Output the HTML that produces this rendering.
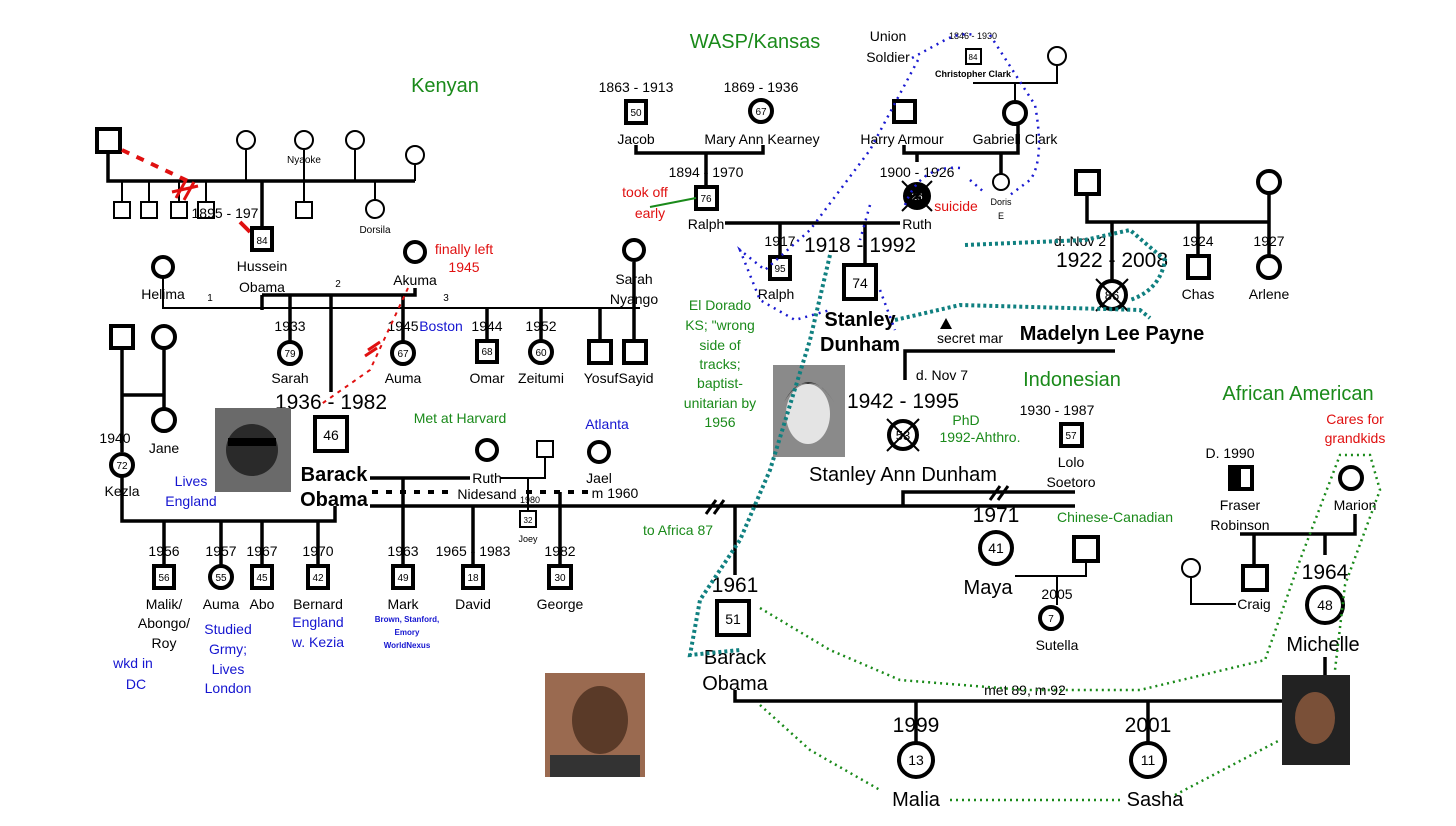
<!DOCTYPE html>
<html><head><meta charset="utf-8"><style>
html,body{margin:0;padding:0;background:#fff}
svg{display:block}
text{font-family:"Liberation Sans",sans-serif;fill:#000}
.s{font-size:14px}.xs{font-size:10px}.b{font-size:21px}.bb{font-size:20px;font-weight:bold}
.g{fill:#1a8a1a}.r{fill:#e01010}.bl{fill:#1515d0}
.ln{stroke:#000;stroke-width:3.5;fill:none}
.tn{stroke:#000;stroke-width:2;fill:none}
.sq{stroke:#000;stroke-width:4;fill:#fff}
.sq2{stroke:#000;stroke-width:2;fill:#fff}
</style></head><body>
<svg width="1456" height="826" viewBox="0 0 1456 826" xmlns="http://www.w3.org/2000/svg">
<g text-anchor="middle">
<text x="445" y="92" font-size="20" class="g">Kenyan</text>
<text x="755" y="48" font-size="20" class="g">WASP/Kansas</text>
<text x="1072" y="386" font-size="20" class="g">Indonesian</text>
<text x="1298" y="400" font-size="20" class="g">African American</text>

<rect x="97" y="129" width="23" height="23" class="sq"/>
<path class="ln" d="M108 152V181H415"/>
<path class="tn" d="M246 150V181M304 150V181M355 150V181M415 165V181"/>
<circle cx="246" cy="140" r="9" class="sq2"/><circle cx="304" cy="140" r="9" class="sq2"/><circle cx="355" cy="140" r="9" class="sq2"/><circle cx="415" cy="155" r="9" class="sq2"/>
<text x="304" y="163" class="xs">Nyaoke</text>
<path class="tn" d="M122 181V202M149 181V202M179 181V202M206 181V202M304 181V202M375 181V200"/>
<rect x="114" y="202" width="16" height="16" class="sq2"/><rect x="141" y="202" width="16" height="16" class="sq2"/><rect x="171" y="202" width="16" height="16" class="sq2"/><rect x="198" y="202" width="16" height="16" class="sq2"/><rect x="296" y="202" width="16" height="16" class="sq2"/>
<circle cx="375" cy="209" r="9" class="sq2"/><text x="375" y="233" class="xs">Dorsila</text>
<path d="M122 150L190 182" stroke="#e01010" stroke-width="4" stroke-dasharray="8,8" fill="none"/>
<path d="M176 198L186 180M184 200L194 182M172 192L198 186" stroke="#e01010" stroke-width="3"/>
<path class="ln" d="M262 181V228"/>
<text x="225" y="218" class="s">1895 - 197</text>
<path d="M240 222L250 232" stroke="#e01010" stroke-width="4"/>
<rect x="252" y="228" width="20" height="22" class="sq"/><text x="262" y="244" class="xs">84</text>
<text x="262" y="271" class="s">Hussein</text><text x="262" y="292" class="s">Obama</text>

<circle cx="163" cy="267" r="10" class="sq"/><text x="163" y="299" class="s">Helima</text>
<circle cx="415" cy="252" r="10" class="sq"/><text x="415" y="285" class="s">Akuma</text>
<text x="464" y="254" class="s r">finally left</text><text x="464" y="272" class="s r">1945</text>
<circle cx="634" cy="250" r="10" class="sq"/><text x="634" y="284" class="s">Sarah</text><text x="634" y="304" class="s">Nyango</text>
<path class="tn" d="M163 278V308H640" stroke-width="3"/>
<path class="ln" d="M262 295H415V288M262 295V310"/>
<text x="210" y="301" class="xs">1</text><text x="338" y="287" class="xs">2</text><text x="446" y="301" class="xs">3</text>
<path class="ln" d="M600 308V340M634 262V340M290 295V342M403 295V342M487 308V340M541 308V342"/>
<path class="ln" d="M331 295V392"/>
<circle cx="290" cy="353" r="11" class="sq"/><text x="290" y="357" class="xs">79</text>
<circle cx="403" cy="353" r="11" class="sq"/><text x="403" y="357" class="xs">67</text>
<rect x="477" y="341" width="20" height="21" class="sq"/><text x="487" y="355" class="xs">68</text>
<circle cx="541" cy="352" r="11" class="sq"/><text x="541" y="356" class="xs">60</text>
<rect x="589" y="341" width="22" height="22" class="sq"/><rect x="624" y="341" width="22" height="22" class="sq"/>
<text x="290" y="331" class="s">1933</text><text x="403" y="331" class="s">1945</text><text x="441" y="331" class="s bl" font-size="14">Boston</text><text x="487" y="331" class="s">1944</text><text x="541" y="331" class="s">1952</text>
<text x="290" y="383" class="s">Sarah</text><text x="403" y="383" class="s">Auma</text><text x="487" y="383" class="s">Omar</text><text x="541" y="383" class="s">Zeitumi</text><text x="601" y="383" class="s">Yosuf</text><text x="636" y="383" class="s">Sayid</text>
<path d="M408 288L370 370L320 405" stroke="#e01010" stroke-width="2" stroke-dasharray="4,5" fill="none"/>
<path d="M368 350L380 342M365 356L377 348" stroke="#e01010" stroke-width="3"/>

<text x="331" y="409" class="b">1936 - 1982</text>
<rect x="315" y="417" width="32" height="34" class="sq"/><text x="331" y="440" font-size="14">46</text>
<rect x="215" y="408" width="76" height="84" fill="#6a6a6a"/><circle cx="252" cy="450" r="26" fill="#2a2a2a"/><rect x="228" y="438" width="48" height="8" fill="#000"/>
<text x="334" y="481" class="bb">Barack</text><text x="334" y="506" class="bb">Obama</text>
<text x="191" y="486" class="s bl">Lives</text><text x="191" y="506" class="s bl">England</text>
<text x="460" y="423" class="s g">Met at Harvard</text><text x="607" y="429" class="s bl">Atlanta</text>
<circle cx="487" cy="450" r="10" class="sq"/><rect x="537" y="441" width="16" height="16" class="sq2"/><circle cx="599" cy="452" r="10" class="sq"/>
<path class="ln" d="M370 478H470"/><path class="tn" d="M500 478H545V457M528 478V510"/>
<text x="487" y="483" class="s">Ruth</text><text x="599" y="483" class="s">Jael</text>
<path d="M372 492H640" stroke="#000" stroke-width="4" stroke-dasharray="6,8"/>
<rect x="450" y="486" width="70" height="14" fill="#fff"/><text x="487" y="499" class="s">Nidesand</text><text x="530" y="503" font-size="9">1980</text>
<rect x="590" y="486" width="50" height="14" fill="#fff"/><text x="615" y="498" class="s">m 1960</text>
<path class="ln" d="M370 506H1075"/>
<rect x="520" y="511" width="16" height="16" class="sq2"/><text x="528" y="523" font-size="8">32</text><text x="528" y="542" font-size="9">Joey</text>
<path class="ln" d="M403 478V566M473 506V566M560 492V566"/>
<rect x="393" y="566" width="20" height="22" class="sq"/><text x="403" y="581" class="xs">49</text>
<rect x="463" y="566" width="20" height="22" class="sq"/><text x="473" y="581" class="xs">18</text>
<rect x="549" y="566" width="22" height="22" class="sq"/><text x="560" y="581" class="xs">30</text>
<text x="403" y="556" class="s">1963</text><text x="473" y="556" class="s">1965 - 1983</text><text x="560" y="556" class="s">1982</text>
<text x="403" y="609" class="s">Mark</text><text x="473" y="609" class="s">David</text><text x="560" y="609" class="s">George</text>
<text x="407" y="622" font-size="8" class="bl" font-weight="bold">Brown, Stanford,</text><text x="407" y="635" font-size="8" class="bl" font-weight="bold">Emory</text><text x="407" y="648" font-size="8" class="bl" font-weight="bold">WorldNexus</text>

<rect x="111" y="326" width="22" height="22" class="sq"/><circle cx="164" cy="337" r="11" class="sq"/>
<path class="ln" d="M122 348V452M164 348V408M122 395H164"/>
<circle cx="164" cy="420" r="11" class="sq"/><text x="164" y="453" class="s">Jane</text>
<text x="115" y="443" class="s">1940</text>
<circle cx="122" cy="465" r="11" class="sq"/><text x="122" y="469" class="xs">72</text><text x="122" y="496" class="s">Kezla</text>
<path class="ln" d="M122 477V521H335V506"/>
<path class="ln" d="M164 521V566M221 521V566M262 521V566M318 521V566"/>
<rect x="154" y="566" width="20" height="22" class="sq"/><text x="164" y="581" class="xs">56</text>
<circle cx="221" cy="577" r="11" class="sq"/><text x="221" y="581" class="xs">55</text>
<rect x="252" y="566" width="20" height="22" class="sq"/><text x="262" y="581" class="xs">45</text>
<rect x="308" y="566" width="20" height="22" class="sq"/><text x="318" y="581" class="xs">42</text>
<text x="164" y="556" class="s">1956</text><text x="221" y="556" class="s">1957</text><text x="262" y="556" class="s">1967</text><text x="318" y="556" class="s">1970</text>
<text x="164" y="609" class="s">Malik/</text><text x="164" y="628" class="s">Abongo/</text><text x="164" y="648" class="s">Roy</text>
<text x="221" y="609" class="s">Auma</text><text x="262" y="609" class="s">Abo</text><text x="318" y="609" class="s">Bernard</text>
<text x="318" y="627" class="s bl">England</text><text x="318" y="647" class="s bl">w. Kezia</text>
<text x="228" y="634" class="s bl">Studied</text><text x="228" y="654" class="s bl">Grmy;</text><text x="228" y="674" class="s bl">Lives</text><text x="228" y="693" class="s bl">London</text>
<text x="133" y="668" class="s bl">wkd in</text><text x="136" y="689" class="s bl">DC</text>

<text x="636" y="92" class="s">1863 - 1913</text><text x="761" y="92" class="s">1869 - 1936</text>
<rect x="626" y="101" width="20" height="22" class="sq"/><text x="636" y="116" class="xs">50</text>
<circle cx="761" cy="111" r="11" class="sq"/><text x="761" y="115" class="xs">67</text>
<text x="636" y="144" class="s">Jacob</text><text x="762" y="144" class="s">Mary Ann Kearney</text>
<path class="ln" d="M636 145V153H763V145M706 153V187"/>
<text x="706" y="177" class="s">1894 - 1970</text>
<rect x="696" y="187" width="21" height="22" class="sq"/><text x="706" y="202" class="xs">76</text>
<text x="645" y="197" class="s r">took off</text><text x="650" y="218" class="s r">early</text>
<path d="M650 207L696 198" stroke="#1a8a1a" stroke-width="2"/>
<text x="706" y="229" class="s">Ralph</text>
<path class="ln" d="M725 223H900M780 223V258M865 223V265"/>
<text x="917" y="229" class="s">Ruth</text>
<text x="917" y="177" class="s">1900 - 1926</text>
<circle cx="917" cy="196" r="12" stroke="#000" stroke-width="4" fill="#000"/><text x="917" y="200" class="xs" style="fill:#fff">26</text>
<path class="tn" d="M902 181L932 211M932 181L902 211"/>
<text x="956" y="211" class="s r">suicide</text>
<rect x="894" y="101" width="21" height="21" class="sq"/>
<circle cx="1015" cy="113" r="11" class="sq"/>
<text x="902" y="144" class="s">Harry Armour</text><text x="1015" y="144" class="s">Gabriell Clark</text>
<path class="ln" d="M904 145V153H1018V124M917 153V162M1001 153V174"/>
<circle cx="1001" cy="182" r="8" class="sq2"/><text x="1001" y="205" font-size="9">Doris</text><text x="1001" y="219" font-size="9">E</text>
<text x="888" y="41" class="s">Union</text><text x="888" y="62" class="s">Soldier</text>
<text x="973" y="39" font-size="9">1846 - 1930</text>
<rect x="966" y="49" width="15" height="15" class="sq2"/><text x="973" y="60" font-size="8">84</text>
<text x="973" y="77" font-size="9" font-weight="bold">Christopher Clark</text>
<circle cx="1057" cy="56" r="9" class="sq2"/><path class="tn" d="M973 83H1057V65M1015 83V102"/>
<text x="780" y="246" class="s">1917</text>
<rect x="770" y="257" width="20" height="22" class="sq"/><text x="780" y="272" class="xs">95</text><text x="776" y="299" class="s">Ralph</text>
<text x="860" y="252" class="b">1918 - 1992</text>
<rect x="844" y="265" width="32" height="34" class="sq"/><text x="860" y="288" font-size="14">74</text>
<text x="860" y="326" class="bb">Stanley</text><text x="860" y="351" class="bb">Dunham</text>
<text x="720" y="310" class="s g">El Dorado</text><text x="720" y="330" class="s g">KS; "wrong</text><text x="720" y="350" class="s g">side of</text><text x="720" y="369" class="s g">tracks;</text><text x="720" y="388" class="s g">baptist-</text><text x="720" y="408" class="s g">unitarian by</text><text x="720" y="427" class="s g">1956</text>
<rect x="773" y="365" width="72" height="92" fill="#8a8a8a"/><ellipse cx="808" cy="414" rx="22" ry="30" fill="#e4e4e4"/><path d="M784 402Q808 362 834 402Q820 380 808 384Q796 380 784 402Z" fill="#333"/>

<rect x="1076" y="171" width="23" height="23" class="sq"/><circle cx="1269" cy="182" r="11" class="sq"/>
<path class="ln" d="M1087 194V222H1269V193M1198 222V256M1269 222V256M1112 222V280"/>
<text x="1080" y="246" class="s">d. Nov 2</text><text x="1198" y="246" class="s">1924</text><text x="1269" y="246" class="s">1927</text>
<text x="1112" y="267" class="b">1922 - 2008</text>
<rect x="1188" y="256" width="21" height="22" class="sq"/><circle cx="1269" cy="267" r="11" class="sq"/>
<text x="1198" y="299" class="s">Chas</text><text x="1269" y="299" class="s">Arlene</text>
<circle cx="1112" cy="295" r="14" class="sq"/><text x="1112" y="300" font-size="13">86</text>
<path class="tn" d="M1096 279L1128 311M1128 279L1096 311"/>
<text x="1112" y="340" class="bb">Madelyn Lee Payne</text>
<path d="M940 329L946 318L952 329Z" fill="#000"/><text x="970" y="343" class="s">secret mar</text>
<path class="ln" d="M905 380V351H1115"/>
<text x="942" y="380" class="s">d. Nov 7</text>
<text x="903" y="408" class="b">1942 - 1995</text>
<circle cx="903" cy="435" r="14" class="sq"/><text x="903" y="440" font-size="13">53</text>
<path class="tn" d="M887 419L919 451M919 419L887 451"/>
<text x="966" y="425" class="s g">PhD</text><text x="980" y="442" class="s g">1992-Ahthro.</text>
<text x="903" y="481" style="font-size:20px">Stanley Ann Dunham</text>
<text x="1057" y="415" class="s">1930 - 1987</text>
<rect x="1061" y="424" width="21" height="22" class="sq"/><text x="1071" y="439" class="xs">57</text>
<text x="1071" y="467" class="s">Lolo</text><text x="1071" y="487" class="s">Soetoro</text>
<path class="ln" d="M903 506V492H1075"/>
<path d="M990 500L1000 486M998 500L1008 486" stroke="#000" stroke-width="3"/>
<text x="996" y="522" class="b">1971</text>
<circle cx="996" cy="548" r="16" class="sq"/><text x="996" y="553" font-size="14">41</text>
<text x="988" y="594" style="font-size:20px">Maya</text>
<text x="1115" y="522" class="s g">Chinese-Canadian</text>
<rect x="1074" y="537" width="24" height="24" class="sq"/>
<path class="tn" d="M1015 576H1086V561M1057 576V605" stroke-width="3"/>
<text x="1057" y="599" class="s">2005</text>
<circle cx="1051" cy="618" r="11" class="sq"/><text x="1051" y="622" class="xs">7</text><text x="1057" y="650" class="s">Sutella</text>

<path class="ln" d="M735 506V575"/>
<path d="M706 514L716 500M714 514L724 500" stroke="#000" stroke-width="3"/>
<text x="678" y="535" class="s g">to Africa 87</text>
<text x="735" y="592" class="b">1961</text>
<rect x="717" y="601" width="32" height="34" class="sq"/><text x="733" y="624" font-size="14">51</text>
<text x="735" y="664" style="font-size:20px">Barack</text><text x="735" y="690" style="font-size:20px">Obama</text>
<path class="ln" d="M735 690V701H1285M916 701V742M1148 701V742"/>
<text x="1025" y="695" class="s">met 89, m 92</text>
<text x="916" y="732" class="b">1999</text><text x="1148" y="732" class="b">2001</text>
<circle cx="916" cy="760" r="17" class="sq"/><text x="916" y="765" font-size="14">13</text>
<circle cx="1148" cy="760" r="17" class="sq"/><text x="1148" y="765" font-size="14">11</text>
<text x="916" y="806" style="font-size:20px">Malia</text><text x="1155" y="806" style="font-size:20px">Sasha</text>
<rect x="545" y="673" width="100" height="104" fill="#9a6a50"/><ellipse cx="600" cy="720" rx="28" ry="34" fill="#5a3a28"/><rect x="550" y="755" width="90" height="22" fill="#333"/>

<text x="1230" y="458" class="s">D. 1990</text>
<rect x="1230" y="467" width="22" height="22" class="sq"/><rect x="1230" y="467" width="11" height="22" fill="#000"/>
<circle cx="1351" cy="478" r="11" class="sq"/>
<text x="1240" y="510" class="s">Fraser</text><text x="1240" y="530" class="s">Robinson</text><text x="1355" y="510" class="s">Marion</text>
<text x="1355" y="424" class="s r">Cares for</text><text x="1355" y="443" class="s r">grandkids</text>
<path class="ln" d="M1240 534H1355V514M1325 534V555M1254 534V566"/>
<rect x="1243" y="566" width="24" height="24" class="sq"/>
<circle cx="1191" cy="568" r="9" class="sq2"/><path class="tn" d="M1191 577V604H1236"/><text x="1254" y="609" class="s">Craig</text>
<text x="1325" y="579" class="b">1964</text>
<circle cx="1325" cy="605" r="18" class="sq"/><text x="1325" y="610" font-size="14">48</text>
<text x="1323" y="651" style="font-size:20px">Michelle</text>
<path class="ln" d="M1325 657V675"/>
<rect x="1282" y="675" width="68" height="90" fill="#222"/><ellipse cx="1315" cy="718" rx="20" ry="26" fill="#7a5038"/>
</g>

<g fill="none" stroke-linecap="butt">
<path d="M912 58L945 40Q960 32 975 35M990 35L1035 105Q1045 160 1030 180L1010 195M970 180L985 193M905 205Q920 165 960 168M918 60L870 150L810 230L765 270L740 250L760 300L795 320L830 310M870 205L860 240M880 290L895 330" stroke="#1a1ad0" stroke-width="2.5" stroke-dasharray="2,5"/>
<path d="M965 245L1085 240L1130 230L1165 260Q1160 290 1130 300M895 320L960 305L1140 310L1150 318M830 255L810 340L770 470L740 540L700 600L690 655L740 650" stroke="#108080" stroke-width="4" stroke-dasharray="3,3"/>
<path d="M760 608L830 650L900 680L1025 690L1140 690L1265 660L1300 560L1340 455L1370 455L1380 490L1345 585L1335 670M760 705L810 750L880 790M950 800L1120 800M1175 795L1280 740" stroke="#1a8a1a" stroke-width="2.5" stroke-dasharray="2,4"/>
</g>
</svg>
</body></html>
